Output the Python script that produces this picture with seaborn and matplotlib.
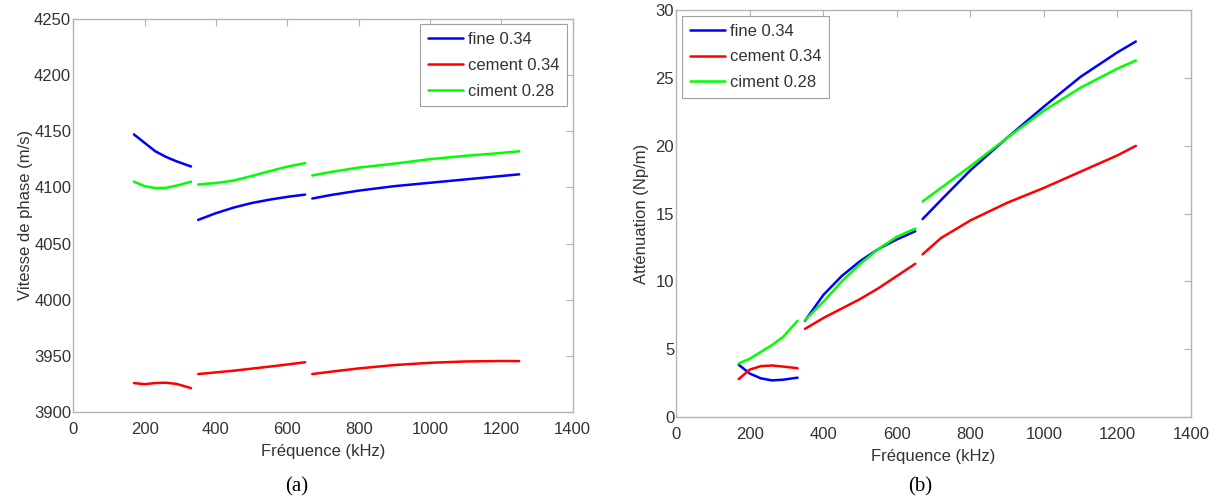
import pandas as pd
import matplotlib
matplotlib.use('Agg')
import matplotlib.pyplot as plt
import seaborn as sns

# frequency grids of the three computed bands (kHz)
f_seg1 = [170, 200, 230, 260, 290, 330]
f_seg2 = [350, 400, 450, 500, 550, 600, 650]
f_seg3 = [670, 720, 800, 900, 1000, 1100, 1200, 1250]

series_names = ['fine 0.34', 'cement 0.34', 'ciment 0.28']
series_colors = ['#0000ff', '#ff0000', '#00ff00']

# (a) phase velocity (m/s)
vit_fine = [[4147, 4139.5, 4132, 4127, 4123, 4118.5],
            [4071, 4077, 4082, 4086, 4089, 4091.5, 4093.5],
            [4090, 4093, 4097, 4101, 4104, 4107, 4110, 4111.5]]
vit_cement = [[3926, 3925, 3926, 3926.3, 3925.2, 3921.5],
              [3934, 3935.5, 3937, 3938.8, 3940.6, 3942.5, 3944.5],
              [3934, 3936, 3939, 3942, 3944, 3945.2, 3945.6, 3945.5]]
vit_ciment = [[4105, 4101, 4099.3, 4099.5, 4101.5, 4105],
              [4102.5, 4103.8, 4106, 4110, 4114.3, 4118.3, 4121.5],
              [4110.5, 4113.5, 4117.5, 4121, 4125, 4128, 4130.5, 4132]]

# (b) attenuation (Np/m)
att_fine = [[3.85, 3.2, 2.85, 2.7, 2.75, 2.9],
            [7.1, 9.0, 10.4, 11.5, 12.4, 13.1, 13.7],
            [14.6, 16.0, 18.2, 20.6, 22.9, 25.1, 26.9, 27.7]]
att_cement = [[2.8, 3.5, 3.75, 3.8, 3.72, 3.6],
              [6.5, 7.3, 8.0, 8.7, 9.5, 10.4, 11.3],
              [12.0, 13.2, 14.5, 15.8, 16.9, 18.1, 19.3, 20.0]]
att_ciment = [[3.95, 4.3, 4.8, 5.3, 5.9, 7.1],
              [7.15, 8.5, 10.0, 11.3, 12.4, 13.3, 13.9],
              [15.9, 16.9, 18.5, 20.6, 22.6, 24.3, 25.7, 26.3]]


def build_frame(curves):
    rows = []
    for name, segs in zip(series_names, curves):
        for k, (fs, vs) in enumerate(zip([f_seg1, f_seg2, f_seg3], segs)):
            for f, v in zip(fs, vs):
                rows.append({'f': f, 'v': v, 'series': name, 'seg': k})
    return pd.DataFrame(rows)


df_a = build_frame([vit_fine, vit_cement, vit_ciment])
df_b = build_frame([att_fine, att_cement, att_ciment])

sns.set_style('white')
plt.rcParams['font.family'] = ['Liberation Sans', 'DejaVu Sans']
plt.rcParams['text.color'] = '#333333'
plt.rcParams['axes.labelcolor'] = '#333333'
plt.rcParams['xtick.color'] = '#333333'
plt.rcParams['ytick.color'] = '#333333'

fig = plt.figure(figsize=(12.19, 5.03), dpi=100)
ax1 = fig.add_axes([0.0601, 0.1803, 0.4097, 0.7829])
ax2 = fig.add_axes([0.5548, 0.1710, 0.4222, 0.8085])

palette = dict(zip(series_names, series_colors))

for ax, df in [(ax1, df_a), (ax2, df_b)]:
    sns.lineplot(data=df, x='f', y='v', hue='series', units='seg',
                 estimator=None, palette=palette, hue_order=series_names,
                 linewidth=1.8, sort=False, ax=ax)
    ax.set_xlim(0, 1400)
    ax.set_xticks(range(0, 1401, 200))
    ax.set_xlabel('Fréquence (kHz)', fontsize=12, labelpad=5)
    for sp in ax.spines.values():
        sp.set_color('#b4b4b4')
        sp.set_linewidth(1.0)
    ax.tick_params(direction='in', length=5, width=0.8, color='#b4b4b4',
                   top=True, right=True, labelsize=12)
    ax.tick_params(axis='x', pad=7)
    ax.tick_params(axis='y', pad=1.5)

ax1.set_ylim(3900, 4250)
ax1.set_yticks(range(3900, 4251, 50))
ax1.set_ylabel('Vitesse de phase (m/s)', fontsize=12, labelpad=1)
ax2.set_ylim(0, 30)
ax2.set_yticks(range(0, 31, 5))
ax2.set_ylabel('Atténuation (Np/m)', fontsize=12, labelpad=5)
ax2.xaxis.labelpad = 5
ax2.tick_params(axis='x', pad=7)

for ax, loc in [(ax1, 'upper right'), (ax2, 'upper left')]:
    h, l = ax.get_legend_handles_labels()
    leg = ax.legend(h, l, loc=loc, fontsize=12, frameon=True, fancybox=False,
                    edgecolor='#a0a0a0', framealpha=1, handlelength=2.1,
                    handletextpad=0.3, borderpad=0.45, labelspacing=0.65,
                    borderaxespad=0.35)
    leg.get_frame().set_linewidth(0.8)

fig.text(297 / 1219, 1 - 487 / 503, '(a)', family='Liberation Serif',
         fontsize=15, color='black', ha='center', va='center')
fig.text(920 / 1219, 1 - 487 / 503, '(b)', family='Liberation Serif',
         fontsize=15, color='black', ha='center', va='center')

fig.savefig('out.png', dpi=100)
